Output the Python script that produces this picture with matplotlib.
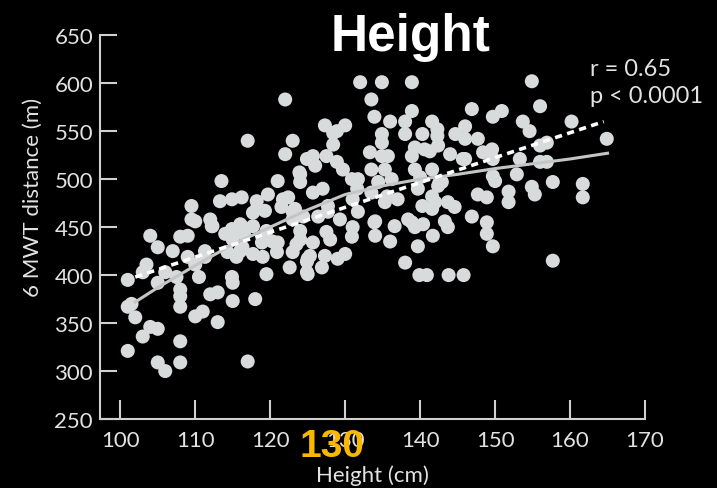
import matplotlib
matplotlib.use("Agg")
import matplotlib.pyplot as plt

# height (cm) and 6MWT distance (m)
height = [
    101, 101, 102, 101, 103, 104, 105, 105, 106, 108, 108, 110, 111, 113, 108,
    108, 105, 103, 107, 104, 105, 108, 109, 109, 103.5, 106, 107.5, 108, 110.5, 110,
    112, 113, 101.5, 110, 109.5, 109.5, 112, 111.3, 111.3, 112.3, 113.3, 113.5,
    115, 118, 119.5, 117, 115, 117.7, 119, 115.5, 114, 116.5, 116, 117, 114.9,
    116.2, 118.2, 119.7, 122.4, 118.2, 119.3, 121.5, 123, 124.4, 112.2, 114.9, 116.2,
    117.7, 119.5, 124, 115, 116.3, 118.9, 120.3, 120.9, 123, 114.3, 114.9, 122.6,
    124.9, 124.9, 121, 123.5, 117.7, 121.7, 123, 116, 121, 122, 123, 122, 124, 124,
    125.7, 124, 125.3, 124.9, 123.3, 123.9,
    125, 125, 127.3, 127.5, 128, 125.7, 126.9, 129, 130, 130.9, 131, 129.3, 127.7,
    127, 127.5, 128.9, 127.3, 130, 128.4, 128.4, 125.7, 126, 129.7, 130.9, 131.6,
    127.7, 131, 126.4, 133.9, 132, 134.9, 133.5, 133.9, 136, 128.9, 134.9, 134.9,
    133.3, 134.9, 133.5, 135.3, 134.4, 133.5, 131.7, 131.7, 134, 134, 136,
    138.9, 138.9, 138, 141.6, 138, 140.3, 142.3, 142.3, 144.7, 138.9, 140.6, 142.4,
    139.3, 141.3, 135.7, 139.3, 141.6, 136.2, 142.4, 140, 142.6, 139.7, 135.3, 137,
    140.3, 142, 141.6, 143.7, 144.6, 135.6, 141.6, 138.4, 140.4, 136.6, 138.9, 143.3,
    139.3, 141.7, 139.7, 138, 139.9, 140.9, 143.8, 145.8, 143.7, 144, 145.7,
    146.9, 150.9, 149.7, 154.9, 156, 160.2, 153.7, 154.6, 146, 146, 147.7, 146,
    148.4, 149.6, 149.7, 153.3, 156, 156.9, 156, 156.9, 164.9, 142.9, 149.7, 150,
    152.9, 157.7, 161.7, 161.7, 147.7, 148.9, 151.8, 151.8, 154.9, 155.3, 146.9,
    148.9, 148.9, 149.7, 157.7,
]
distance = [
    395, 367, 356, 321, 336, 346, 344, 309, 300, 331, 309, 357, 362, 351, 367,
    378, 392, 403, 425, 441, 429, 440, 441, 419, 411, 403, 398, 385, 398, 411,
    380, 382, 370, 456, 472, 458, 458, 425, 419, 451, 477, 498,
    373, 375, 401, 310, 392, 422, 419, 419, 443, 443, 425, 540, 479,
    481, 477, 484, 481, 469, 467, 471, 466, 461, 451, 448, 451,
    451, 446, 446, 437, 429, 434, 435, 424, 424, 424, 398, 408,
    403, 414, 434, 432, 465, 479, 458, 453, 498, 526, 540, 583, 505, 497,
    486, 437, 420, 521, 469, 507,
    401, 417, 420, 445, 437, 434, 408, 417, 422, 440, 450, 458, 466,
    490, 524, 518, 556, 556, 548, 536, 524, 514, 510, 500, 490,
    472, 479, 461, 455, 601, 601, 583, 565, 560, 550, 547, 538,
    528, 524, 510, 510, 497, 486, 500, 466, 456, 441, 435,
    601, 571, 560, 560, 547, 547, 552, 545, 547, 524, 531, 535,
    533, 529, 524, 510, 510, 500, 493, 502, 497, 490, 476, 479,
    472, 476, 469, 476, 471, 482, 482, 458, 453, 451, 455, 456,
    450, 441, 430, 413, 400, 400, 400, 400, 450, 526, 521,
    573, 571, 565, 602, 576, 560, 560, 550, 555, 542, 542, 521,
    528, 531, 521, 521, 535, 538, 518, 518, 542, 497, 503, 498,
    505, 497, 495, 481, 484, 481, 487, 476, 492, 484, 461,
    455, 443, 430, 415,
]

# linear fit (dashed) and smooth curve (solid)
fit_x = [102, 164.5]
fit_y = [398, 560]
smooth_x = [102, 105, 110, 115, 120, 125, 130, 135, 140, 145, 150, 155, 160, 165]
smooth_y = [372, 387, 410, 432, 450, 468, 484, 493, 500, 505, 511, 516, 521, 527]

x_ticks = [100, 110, 120, 130, 140, 150, 160, 170]
y_ticks = [250, 300, 350, 400, 450, 500, 550, 600, 650]

fg = "#e2e2e2"

fig = plt.figure(figsize=(7.17, 4.89), dpi=100, facecolor="black")
ax = fig.add_axes([0.1395, 0.141, 0.7601, 0.785], facecolor="black")

ax.scatter(height, distance, s=102, color="#d8dbdb", edgecolors="none", zorder=2)
ax.plot(smooth_x, smooth_y, color="#c4c6c6", lw=2.2, zorder=3)
ax.plot(fit_x, fit_y, color="white", lw=2.6, ls=(0, (2.0, 1.5)), zorder=4)

ax.set_xlim(97.3, 170)
ax.set_ylim(250, 650)
ax.set_xticks(x_ticks)
ax.set_yticks(y_ticks)

for s in ["top", "right"]:
    ax.spines[s].set_visible(False)
for s in ["left", "bottom"]:
    ax.spines[s].set_color("#d0d0d0")
    ax.spines[s].set_linewidth(1.5)

ax.tick_params(axis="x", direction="in", length=13.5, width=1.5, color="#d0d0d0",
               labelcolor=fg, labelsize=16, pad=8)
ax.tick_params(axis="y", direction="in", length=12, width=1.5, color="#d0d0d0",
               labelcolor=fg, labelsize=16, pad=5)
for lab in ax.get_xticklabels() + ax.get_yticklabels():
    lab.set_family("Lato")

ax.set_xlabel("Height (cm)", color=fg, fontsize=16, family="Lato")
ax.xaxis.set_label_coords(0.5, -0.118)
ax.set_ylabel("6 MWT distance (m)", color=fg, fontsize=16, family="Lato")
ax.yaxis.set_label_coords(-0.105, 0.58)

fig.text(0.823, 0.857, "r = 0.65", color=fg, fontsize=17, family="Lato", va="center")
fig.text(0.823, 0.802, "p < 0.0001", color=fg, fontsize=17, family="Lato", va="center")

fig.text(0.573, 0.924, "Height", color="white", fontsize=37, fontweight="bold",
         family="Liberation Sans", ha="center", va="center")
fig.text(0.463, 0.086, "130", color="#f9b800", fontsize=28, fontweight="bold",
         family="Liberation Sans", ha="center", va="center")

fig.savefig("out.png", dpi=100, facecolor="black")
